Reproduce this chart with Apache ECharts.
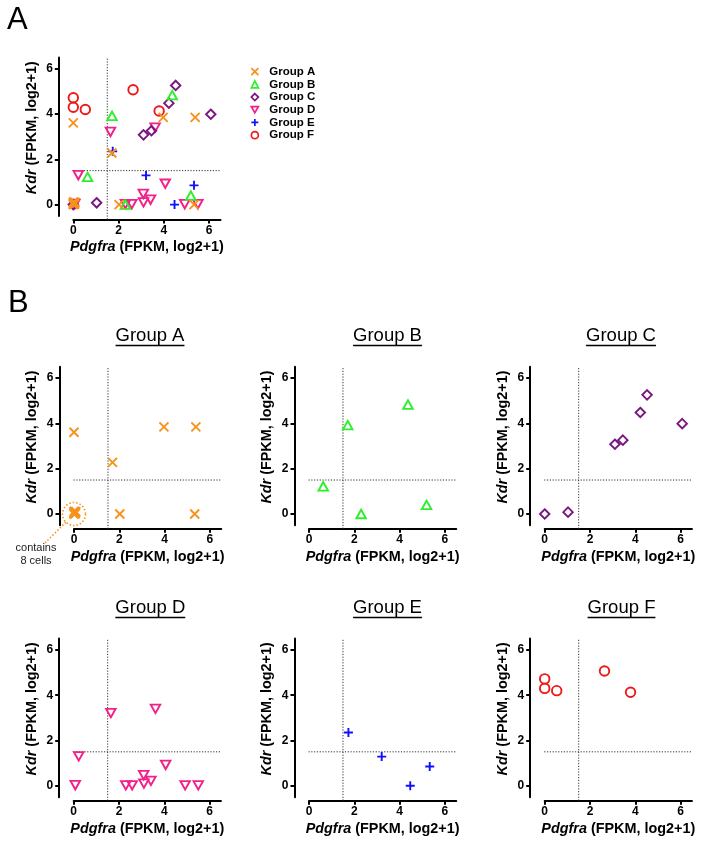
<!DOCTYPE html>
<html><head><meta charset="utf-8">
<script src="https://cdn.jsdelivr.net/npm/echarts@6/dist/echarts.min.js"></script>
<style>html,body{margin:0;padding:0;background:#fff}#c{width:704px;height:848px}</style>
</head><body><div id="c"></div>
<script>
// ---------------- DATA ----------------
const groupNames = ['Group A', 'Group B', 'Group C', 'Group D', 'Group E', 'Group F'];
const groupA = [[0, 3.61], [1.70, 2.28], [3.97, 3.85], [5.38, 3.85], [2.02, 0], [5.33, 0],
  [0, 0], [0.02, 0.03], [0.04, 0.08], [0.01, 0.12], [0.06, 0.02], [0.03, 0.05], [0.08, 0.10], [0, 0.06]];
const groupB = [[0.63, 1.22], [1.71, 3.92], [4.37, 4.83], [2.30, 0], [5.19, 0.40]];
const groupC = [[0, 0], [1.03, 0.08], [3.10, 3.08], [3.45, 3.26], [4.22, 4.48], [4.52, 5.26], [6.07, 3.99]];
const groupD = [[0.07, 0.03], [0.22, 1.30], [1.64, 3.21], [3.61, 3.40], [2.30, 0.02], [2.58, 0.02],
  [3.09, 0.47], [3.10, 0.10], [3.41, 0.22], [4.06, 0.92], [4.92, 0.02], [5.50, 0.02]];
const groupE = [[1.74, 2.35], [3.21, 1.29], [4.47, 0], [5.33, 0.85]];
const groupF = [[0, 4.72], [0, 4.30], [0.53, 4.20], [2.64, 5.07], [3.79, 4.13]];
const groupData = [groupA, groupB, groupC, groupD, groupE, groupF];

const xTicks = [0, 2, 4, 6];
const yTicks = [0, 2, 4, 6];
const xRange = [0, 6.5];
const yRange = [-0.5, 6.5];
const threshold = 1.5;
const annotationPoint = [0, 0];
const annotationText = ['contains', '8 cells'];
const xTitle = '{i|Pdgfra} (FPKM, log2+1)';
const yTitle = '{i|Kdr} (FPKM, log2+1)';

// ---------------- STYLE / LAYOUT ----------------
const FONT = '"Liberation Sans", Arial, Helvetica, sans-serif';
const colors = ['#F7921C', '#2EEE2E', '#7A1680', '#F2218A', '#1010FF', '#EE1818'];
const symbols = [
  'path://M0,0L10,10M10,0L0,10',
  'triangle',
  'diamond',
  'path://M0,0L10,0L5,8.66Z',
  'path://M5,0L5,10M0,5L10,5',
  'circle'
];
const symbolSizes = [9, [9.5, 8.5], 9.5, [9.5, 8.5], 9, 9.5];
const PX = 22.65;           // pixels per unit
const Y_OFF = 14.5, X_OFF = 3.5;
const panels = [
  { left: 73.3, zeroY: 204.6, groups: [0, 1, 2, 3, 4, 5], title: null },
  { left: 74.0, zeroY: 514.0, groups: [0], title: 'Group A', tx: 150.0, ty: 336 },
  { left: 309.0, zeroY: 514.0, groups: [1], title: 'Group B', tx: 387.5, ty: 336 },
  { left: 544.7, zeroY: 514.0, groups: [2], title: 'Group C', tx: 621.0, ty: 336 },
  { left: 73.7, zeroY: 785.8, groups: [3], title: 'Group D', tx: 150.3, ty: 608 },
  { left: 309.0, zeroY: 785.8, groups: [4], title: 'Group E', tx: 387.5, ty: 608 },
  { left: 544.7, zeroY: 785.8, groups: [5], title: 'Group F', tx: 621.5, ty: 608 }
];
const xFrame = [xRange[0] - Y_OFF / PX, xRange[1]];
const yFrame = [yRange[0] - X_OFF / PX, yRange[1]];

const chart = echarts.init(document.getElementById('c'), null, { renderer: 'canvas' });
const grids = [], xAxes = [], yAxes = [], series = [];
const titleRich = { i: { fontStyle: 'italic', fontWeight: 'bold', fontSize: 14.4, fontFamily: FONT, color: '#000' } };
const tickLabel = { fontSize: 12, fontWeight: 'bold', color: '#000', fontFamily: FONT, margin: 6 };

panels.forEach((p, i) => {
  grids.push({
    left: p.left, top: p.zeroY - yRange[1] * PX,
    width: (xRange[1] - xRange[0]) * PX, height: (yRange[1] - yRange[0]) * PX,
    containLabel: false, outerBoundsMode: 'none'
  });
  xAxes.push({
    type: 'value', gridIndex: i, min: xRange[0], max: xRange[1], offset: X_OFF,
    axisLine: { show: true, onZero: false, lineStyle: { color: '#000', width: 2 } },
    axisTick: { show: true, customValues: xTicks, length: 4, lineStyle: { color: '#000', width: 2 } },
    axisLabel: Object.assign({ customValues: xTicks }, tickLabel, { margin: 5 }),
    splitLine: { show: false },
    name: xTitle, nameLocation: 'middle', nameGap: 21,
    nameTextStyle: { fontSize: 14.4, fontWeight: 'bold', color: '#000', fontFamily: FONT, rich: titleRich }
  });
  yAxes.push({
    type: 'value', gridIndex: i, min: yRange[0], max: yRange[1], offset: Y_OFF,
    axisLine: { show: true, onZero: false, lineStyle: { color: '#000', width: 2 } },
    axisTick: { show: true, customValues: yTicks, length: 4, lineStyle: { color: '#000', width: 2 } },
    axisLabel: Object.assign({ customValues: yTicks }, tickLabel),
    splitLine: { show: false },
    name: yTitle, nameLocation: 'middle', nameGap: 20,
    nameTextStyle: { fontSize: 14.4, fontWeight: 'bold', color: '#000', fontFamily: FONT, rich: titleRich, padding: [0, 0, 0, 18] }
  });
  const dotted = { color: '#333', width: 1, type: [1.2, 1.6] };
  series.push({ type: 'line', xAxisIndex: i, yAxisIndex: i, silent: true, clip: false, symbol: 'none',
    data: [[xFrame[0], threshold], [xFrame[1], threshold]], lineStyle: dotted, z: 1 });
  series.push({ type: 'line', xAxisIndex: i, yAxisIndex: i, silent: true, clip: false, symbol: 'none',
    data: [[threshold, yFrame[0]], [threshold, yFrame[1]]], lineStyle: dotted, z: 1 });
  p.groups.slice().reverse().forEach(g => {
    series.push({
      type: 'scatter', name: groupNames[g], xAxisIndex: i, yAxisIndex: i, clip: false,
      data: groupData[g], symbol: symbols[g], symbolSize: symbolSizes[g],
      itemStyle: { color: 'transparent', borderColor: colors[g], borderWidth: 1.9, opacity: 1 },
      emphasis: { disabled: true }, z: 3
    });
  });
});
// annotation circle around the 8 overlapping cells in Group A panel
series.push({
  type: 'scatter', xAxisIndex: 1, yAxisIndex: 1, clip: false, silent: true,
  data: [annotationPoint], symbol: 'circle', symbolSize: 23,
  itemStyle: { color: 'transparent', borderColor: colors[0], borderWidth: 1.6, borderType: [1.5, 2], opacity: 1 }, z: 2
});

chart.setOption({
  animation: false,
  backgroundColor: '#fff',
  textStyle: { fontFamily: FONT },
  grid: grids, xAxis: xAxes, yAxis: yAxes, series: series,
  legend: {
    orient: 'vertical', left: 245.5, top: 60.3, itemWidth: 7, itemHeight: 7, itemGap: 0,
    selectedMode: false,
    textStyle: { fontSize: 11.5, fontWeight: 'bold', color: '#000', fontFamily: FONT, lineHeight: 12.7, padding: [0, 0, 0, 6] },
    data: groupNames.map((n, g) => ({ name: n, icon: symbols[g],
      itemStyle: { color: 'transparent', borderColor: colors[g], borderWidth: 1.7, opacity: 1 } }))
  }
});

// ---------------- TEXT DECORATIONS ----------------
const ctx = document.createElement('canvas').getContext('2d');
ctx.font = '18.5px ' + FONT;
const graphics = [
  { type: 'text', left: 7, top: 5, style: { text: 'A', fontSize: 31, fontFamily: FONT, fill: '#000' } },
  { type: 'text', left: 8, top: 288, style: { text: 'B', fontSize: 31, fontFamily: FONT, fill: '#000' } }
];
panels.forEach(p => {
  if (!p.title) return;
  const w = ctx.measureText(p.title).width;
  graphics.push({ type: 'text', x: p.tx, y: p.ty,
    style: { text: p.title, fontSize: 18.5, fontFamily: FONT, fill: '#000', align: 'center', verticalAlign: 'middle' } });
  graphics.push({ type: 'line', shape: { x1: p.tx - w / 2, y1: p.ty + 9.5, x2: p.tx + w / 2, y2: p.ty + 9.5 },
    style: { stroke: '#000', lineWidth: 1.3 } });
});
const c = chart.convertToPixel({ gridIndex: 1 }, annotationPoint);
const r = 11.5 / Math.SQRT2;
graphics.push({ type: 'line', shape: { x1: c[0] - r, y1: c[1] + r, x2: c[0] - 29, y2: c[1] + 29 },
  style: { stroke: colors[0], lineWidth: 1.6, lineDash: [1.5, 2] } });
graphics.push({ type: 'text', x: c[0] - 38, y: c[1] + 34,
  style: { text: annotationText[0], fontSize: 11, fontFamily: FONT, fill: '#222', align: 'center', verticalAlign: 'middle' } });
graphics.push({ type: 'text', x: c[0] - 38, y: c[1] + 47,
  style: { text: annotationText[1], fontSize: 11, fontFamily: FONT, fill: '#222', align: 'center', verticalAlign: 'middle' } });
chart.setOption({ graphic: graphics });
</script>
</body></html>
